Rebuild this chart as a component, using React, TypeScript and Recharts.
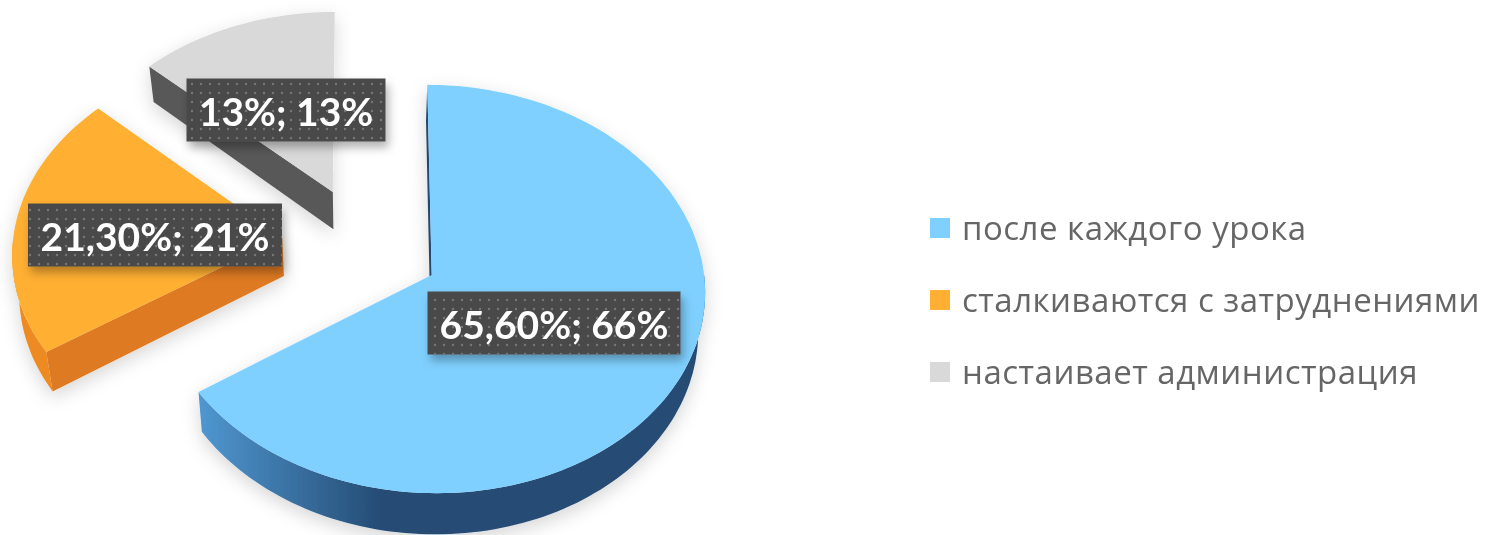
import React from 'react';
import { PieChart, Pie, Legend } from 'recharts';

const categories = ['после каждого урока', 'сталкиваются с затруднениями', 'настаивает администрация'];
const shares = [65.6, 21.3, 13];
const percentLabels = ['65,60%', '21,30%', '13%'];
const roundedLabels = ['66%', '21%', '13%'];

const sliceColors = ['#7FD0FF', '#FFAF33', '#D9D9D9'];
const edgeColors = ['#24496F', '#DE7A20', '#595959'];
const rimFills = ['url(#blueRim)', '#EE8A24', '#595959'];

// exploded offset of each slice on the pie's plane, in radii
const explode = [[0.252, 0.134], [-0.3, -0.05], [-0.114, -0.286]];
// label box centre relative to the pie centre, and box width
const labelOffsets = [[191, 75], [-208, -13], [-77, -138]];
const labelWidths = [253, 254, 199];

const TILT = 0.739;
const PERSPECTIVE = 0.068;
const DEPTH = 38;
const BOTTOM_SHRINK = 0.02;

const chartData = categories.map((name, i) => ({ name, value: shares[i], fill: sliceColors[i] }));

// plane coordinates -> screen, near part of the pie gets bigger, underside a bit smaller
const project = (cx: number, cy: number, r: number, u: number, v: number, drop = 0) => {
  const s = 1 / (1 - PERSPECTIVE * v);
  const shrink = 1 - (BOTTOM_SHRINK * drop) / DEPTH;
  return [cx + r * u * s * shrink, cy + r * TILT * v * s + drop * s];
};

const toPath = (pts: number[][]) =>
  pts.map((p, i) => `${i ? 'L' : 'M'}${p[0].toFixed(1)},${p[1].toFixed(1)}`).join(' ') + ' Z';

const Slice3D = (props: any) => {
  const { cx, cy, outerRadius, startAngle, endAngle, index } = props;
  const [ex, ey] = explode[index];
  // recharts angles run from 90 downwards, turn them into clockwise-from-top
  const a0 = 90 - startAngle;
  const a1 = 90 - endAngle;
  const at = (deg: number, drop = 0) => {
    const rad = (deg * Math.PI) / 180;
    return project(cx, cy, outerRadius, ex + Math.sin(rad), ey - Math.cos(rad), drop);
  };
  const apex = (drop = 0) => project(cx, cy, outerRadius, ex, ey, drop);

  const arc: number[][] = [];
  for (let d = a0; d < a1; d += 1.5) arc.push(at(d));
  arc.push(at(a1));

  const rimFrom = Math.max(a0, 90);
  const rimTo = Math.min(a1, 270);
  const rimTop: number[][] = [];
  const rimBottom: number[][] = [];
  for (let d = rimFrom; d < rimTo; d += 1.5) {
    rimTop.push(at(d));
    rimBottom.push(at(d, DEPTH));
  }
  if (rimTo > rimFrom) {
    rimTop.push(at(rimTo));
    rimBottom.push(at(rimTo, DEPTH));
  }

  return (
    <g filter="url(#sliceShadow)">
      <path d={toPath([apex(), at(a0), at(a0, DEPTH), apex(DEPTH)])} fill={edgeColors[index]} />
      {rimTop.length > 0 && <path d={toPath([...rimTop, ...rimBottom.reverse()])} fill={rimFills[index]} />}
      <path d={toPath([apex(), ...arc])} fill={sliceColors[index]} />
    </g>
  );
};

const renderLabel = (props: any) => {
  const { cx, cy, index } = props;
  const x = cx + labelOffsets[index][0];
  const y = cy + labelOffsets[index][1];
  const w = labelWidths[index];
  const h = 63;
  return (
    <g key={index}>
      <rect x={x - w / 2} y={y - h / 2} width={w} height={h} fill="#4A4A4A" filter="url(#labelShadow)" />
      <rect x={x - w / 2} y={y - h / 2} width={w} height={h} fill="url(#labelDots)" />
      <text
        x={x}
        y={y + 1}
        textAnchor="middle"
        dominantBaseline="central"
        fill="#FFFFFF"
        fontFamily="Lato, sans-serif"
        fontWeight={700}
        fontSize={39}
      >
        {`${percentLabels[index]}; ${roundedLabels[index]}`}
      </text>
    </g>
  );
};

const App: React.FC = () => {
  return (
    <div style={{ position: 'absolute', left: 0, top: 0, width: 1485, height: 535, background: '#fff', overflow: 'hidden', filter: 'blur(0.5px)' }}>
      <PieChart width={1485} height={535} margin={{ top: 0, right: 0, bottom: 0, left: 0 }}>
        <defs>
          <linearGradient id="blueRim" gradientUnits="userSpaceOnUse" x1={200} y1={0} x2={380} y2={0}>
            <stop offset="0%" stopColor="#4F97D0" />
            <stop offset="100%" stopColor="#254C75" />
          </linearGradient>
          <pattern id="labelDots" width={9} height={9} patternUnits="userSpaceOnUse">
            <circle cx={3} cy={3} r={1.2} fill="#767676" />
          </pattern>
          <filter id="sliceShadow" x="-20%" y="-20%" width="140%" height="140%">
            <feDropShadow dx={0} dy={6} stdDeviation={9} floodColor="#000" floodOpacity={0.16} />
          </filter>
          <filter id="labelShadow" x="-10%" y="-20%" width="120%" height="150%">
            <feDropShadow dx={3} dy={6} stdDeviation={5} floodColor="#000" floodOpacity={0.3} />
          </filter>
        </defs>
        <Pie
          data={chartData}
          dataKey="value"
          nameKey="name"
          cx={363}
          cy={248}
          innerRadius={0}
          outerRadius={270}
          startAngle={90}
          endAngle={-270}
          stroke="none"
          shape={Slice3D}
          label={renderLabel}
          labelLine={false}
          isAnimationActive={false}
        />
        <Legend
          layout="vertical"
          iconType="square"
          iconSize={20}
          itemSorter={null}
          wrapperStyle={{ left: 930, top: 184, width: 555, bottom: 'auto' }}
          formatter={(value: string) => (
            <span style={{ color: '#666666', fontFamily: '"Open Sans", sans-serif', fontSize: 33, letterSpacing: 0.5, lineHeight: '72px', marginLeft: 8, whiteSpace: 'nowrap', position: 'relative', top: 8 }}>
              {value}
            </span>
          )}
        />
      </PieChart>
    </div>
  );
};

export default App;
